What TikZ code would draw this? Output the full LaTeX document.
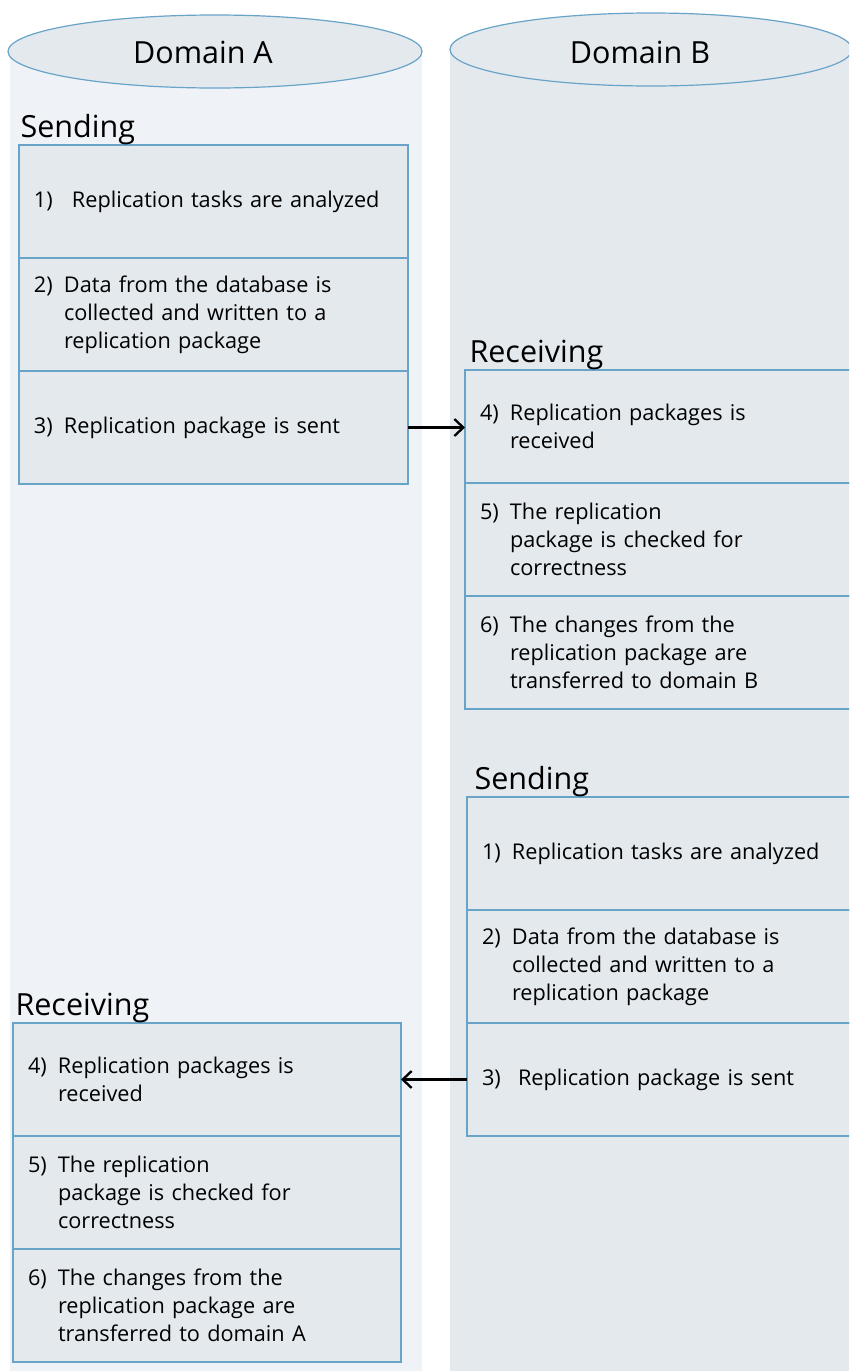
\documentclass[tikz,border=0pt]{standalone}
\usepackage{fontspec}
\setmainfont{Open Sans}
\usetikzlibrary{positioning,arrows.meta}
\definecolor{laneA}{RGB}{239,243,247}
\definecolor{laneB}{RGB}{228,233,238}
\definecolor{edgeblue}{RGB}{104,163,200}
\newcommand{\numtext}[3][0pt]{\makebox[30pt][l]{#2}\hspace{#1}\parbox[t]{340pt}{#3}}
\tikzset{
  stepbox/.style={draw=edgeblue, line width=1.3pt, fill=laneB, outer sep=0pt,
    inner xsep=15pt, inner ysep=0pt, minimum height=113pt, align=left,
    text width=#1, font=\fontsize{21.7}{28}\selectfont},
  lanehead/.style={draw=edgeblue, line width=1.2pt, fill=laneB},
  headtext/.style={font=\fontsize{30.5}{34}\selectfont},
  phase/.style={anchor=base west, font=\fontsize{30.5}{34}\selectfont},
  flow/.style={->, line width=2.3pt}
}

\begin{document}
\begin{tikzpicture}[x=1pt,y=-1pt,>={Straight Barb[length=9pt,width=17pt]}]
  \clip (0,0) rectangle (849,1371);
  \fill[white] (0,0) rectangle (849,1371);
  % the two domains
  \fill[laneA] (10,52) rectangle (422,1371);
  \fill[laneB] (450,50) rectangle (849,1371);
  \draw[lanehead] (215,51.5) ellipse [x radius=207, y radius=36.5];
  \draw[lanehead] (651,49.5) ellipse [x radius=201, y radius=36.5];
  \node[headtext] (domA) at (203,52) {Domain A};
  \node[headtext] (domB) at (640,52) {Domain B};

  % domain A sends
  \node[stepbox=359pt, anchor=north west] (sa1) at (19,145)
    {\numtext[8pt]{1)}{Replication tasks are analyzed}};
  \node[stepbox=359pt, below=0pt of sa1] (sa2)
    {\numtext{2)}{Data from the database is\\collected and written to a\\replication package}};
  \node[stepbox=359pt, below=0pt of sa2] (sa3)
    {\numtext{3)}{Replication package is sent}};
  \node[phase] (sendA) at ([shift={(-2pt,8pt)}]sa1.north west) {Sending};

  % domain B receives
  \node[stepbox=390pt, anchor=north west] (rb4) at (465,370)
    {\numtext{4)}{Replication packages is\\received}};
  \node[stepbox=390pt, below=0pt of rb4] (rb5)
    {\numtext{5)}{The replication\\package is checked for\\correctness}};
  \node[stepbox=390pt, below=0pt of rb5] (rb6)
    {\numtext{6)}{The changes from the\\replication package are\\transferred to domain B}};
  \node[phase] (recvB) at ([shift={(1pt,8pt)}]rb4.north west) {Receiving};

  % domain B sends
  \node[stepbox=390pt, anchor=north west] (sb1) at (467,797)
    {\numtext{1)}{Replication tasks are analyzed}};
  \node[stepbox=390pt, below=0pt of sb1] (sb2)
    {\numtext{2)}{Data from the database is\\collected and written to a\\replication package}};
  \node[stepbox=390pt, below=0pt of sb2] (sb3)
    {\numtext[6pt]{3)}{Replication package is sent}};
  \node[phase] (sendB) at ([shift={(4pt,8pt)}]sb1.north west) {Sending};

  % domain A receives
  \node[stepbox=358pt, anchor=north west] (ra4) at (13,1023)
    {\numtext{4)}{Replication packages is\\received}};
  \node[stepbox=358pt, below=0pt of ra4] (ra5)
    {\numtext{5)}{The replication\\package is checked for\\correctness}};
  \node[stepbox=358pt, below=0pt of ra5] (ra6)
    {\numtext{6)}{The changes from the\\replication package are\\transferred to domain A}};
  \node[phase] (recvA) at ([shift={(-1pt,8pt)}]ra4.north west) {Receiving};

  \draw[flow] (sa3.east) -- (sa3.east -| rb4.west);
  \draw[flow] (sb3.west) -- (sb3.west -| ra4.east);
\end{tikzpicture}
\end{document}
